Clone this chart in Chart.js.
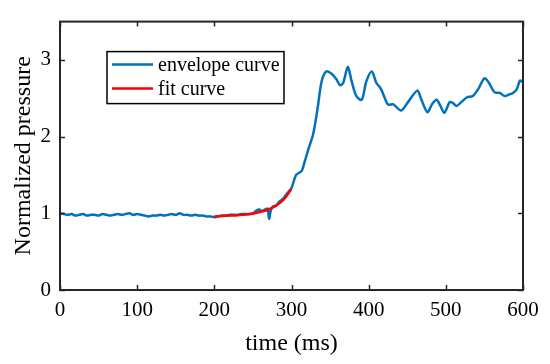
<!DOCTYPE html>
<html>
<head>
<meta charset="utf-8">
<script src="https://cdn.jsdelivr.net/npm/chart.js@4"></script>
<style>
  html, body { margin: 0; padding: 0; background: #fff; }
  #wrap { width: 550px; height: 364px; }
</style>
</head>
<body>
<div id="wrap"><canvas id="pressureChart"></canvas></div>
<script>
// Envelope curve (time in ms, normalized pressure)
const envTime = [0, 5, 10, 15, 20, 25, 30, 35, 40, 45, 50, 55, 60, 65, 70, 75, 80, 85, 90, 95,
  100, 105, 110, 115, 120, 125, 130, 135, 140, 145, 150, 155, 160, 165, 170, 175, 180, 185, 190, 195,
  200, 205, 210, 215, 220, 225, 230, 235, 240, 245, 250, 255, 258, 262, 266, 269, 271, 273, 276, 280,
  284, 288, 292, 296, 300, 306, 313, 317, 322, 328, 334, 339, 345, 352, 358, 363, 367, 373, 378, 384,
  391, 397, 404, 410, 414, 417, 421, 425, 432, 442, 451, 463, 468, 476, 482, 488, 493, 498, 505, 509,
  514, 520, 527, 535, 542, 550, 556, 563, 570, 576, 582, 587, 592, 596, 600];
const envValue = [1.00, 0.99, 0.98, 0.99, 0.97, 0.98, 0.99, 0.97, 0.98, 0.98, 0.97, 0.99, 0.98, 0.97, 0.98, 0.99, 0.98, 0.99, 1.00, 0.98,
  0.99, 0.98, 0.97, 0.96, 0.97, 0.97, 0.98, 0.97, 0.98, 0.99, 0.98, 1.00, 0.98, 0.98, 0.97, 0.98, 0.97, 0.97, 0.96, 0.96,
  0.95, 0.96, 0.97, 0.97, 0.98, 0.98, 0.98, 0.99, 0.99, 0.99, 1.00, 1.04, 1.05, 1.03, 1.05, 1.06, 0.93, 1.03, 1.09, 1.10,
  1.15, 1.18, 1.23, 1.28, 1.33, 1.50, 1.55, 1.67, 1.84, 2.03, 2.38, 2.72, 2.85, 2.82, 2.75, 2.67, 2.70, 2.91, 2.72, 2.53,
  2.48, 2.72, 2.85, 2.70, 2.65, 2.60, 2.50, 2.42, 2.42, 2.34, 2.45, 2.60, 2.49, 2.32, 2.42, 2.48, 2.40, 2.31, 2.45, 2.44,
  2.40, 2.45, 2.51, 2.53, 2.62, 2.76, 2.70, 2.58, 2.57, 2.53, 2.55, 2.57, 2.62, 2.73, 2.71];

// Fit curve
const fitTime = [200, 210, 220, 230, 240, 250, 260, 270, 280, 290, 300];
const fitValue = [0.96, 0.965, 0.97, 0.975, 0.985, 0.995, 1.02, 1.05, 1.10, 1.18, 1.32];

// Axis ticks
const xTicks = [0, 100, 200, 300, 400, 500, 600];
const yTicks = [0, 1, 2, 3];

const serif = '"Liberation Serif", "Times New Roman", serif';
const axisColor = '#262626';

// Box + inward tick marks on all four sides (MATLAB style), plus the legend
const boxPlugin = {
    id: 'boxPlugin',
    afterDatasetsDraw(chart) {
        const ctx = chart.ctx;
        const area = chart.chartArea;
        const xs = chart.scales.x;
        const ys = chart.scales.y;
        const tick = 5;
        ctx.save();
        ctx.strokeStyle = axisColor;
        ctx.lineWidth = 1.5;
        ctx.beginPath();
        xTicks.forEach(v => {
            const px = Math.round(xs.getPixelForValue(v)) + 0.5;
            ctx.moveTo(px, area.bottom);
            ctx.lineTo(px, area.bottom - tick);
            ctx.moveTo(px, area.top);
            ctx.lineTo(px, area.top + tick);
        });
        yTicks.forEach(v => {
            const py = Math.round(ys.getPixelForValue(v)) + 0.5;
            ctx.moveTo(area.left, py);
            ctx.lineTo(area.left + tick, py);
            ctx.moveTo(area.right, py);
            ctx.lineTo(area.right - tick, py);
        });
        ctx.stroke();
        ctx.lineWidth = 2;
        ctx.strokeRect(area.left, area.top, area.right - area.left, area.bottom - area.top);

        // legend
        const lx = area.left + 47, ly = area.top + 30, lw = 177, lh = 52;
        ctx.fillStyle = '#fff';
        ctx.fillRect(lx, ly, lw, lh);
        ctx.lineWidth = 1.5;
        ctx.strokeStyle = '#000';
        ctx.strokeRect(lx, ly, lw, lh);
        ctx.font = '20px ' + serif;
        ctx.textBaseline = 'middle';
        chart.data.datasets.forEach((ds, i) => {
            const yy = ly + 13 + i * 24;
            ctx.strokeStyle = ds.borderColor;
            ctx.lineWidth = 2.5;
            ctx.beginPath();
            ctx.moveTo(lx + 5, yy);
            ctx.lineTo(lx + 46, yy);
            ctx.stroke();
            ctx.fillStyle = '#000';
            ctx.fillText(ds.label, lx + 51, yy + 1);
        });
        ctx.restore();
    }
};

const chart = new Chart(document.getElementById('pressureChart'), {
    type: 'line',
    data: {
        datasets: [
            {
                label: 'envelope curve',
                data: envTime.map((t, i) => ({ x: t, y: envValue[i] })),
                borderColor: '#0072BD',
                borderWidth: 2.5,
                pointRadius: 0,
                tension: 0.3,
                fill: false,
                order: 1,
            },
            {
                label: 'fit curve',
                data: fitTime.map((t, i) => ({ x: t, y: fitValue[i] })),
                borderColor: '#FF0000',
                borderWidth: 2.5,
                pointRadius: 0,
                tension: 0.4,
                fill: false,
                order: 0, // red drawn on top of the blue
            },
        ],
    },
    options: {
        responsive: true,
        maintainAspectRatio: false,
        animation: false,
        layout: { padding: { left: 0, right: 27, top: 11, bottom: 0 } },
        plugins: {
            legend: { display: false },
            tooltip: { enabled: false },
        },
        scales: {
            x: {
                type: 'linear',
                min: 0,
                max: 600,
                afterBuildTicks: s => { s.ticks = xTicks.map(v => ({ value: v })); },
                afterFit: s => { s.height = 74; },
                grid: { display: false, drawTicks: false },
                border: { display: false },
                ticks: {
                    color: '#000',
                    padding: 8,
                    maxRotation: 0,
                    font: { family: serif, size: 21 },
                },
                title: {
                    display: true,
                    text: 'time (ms)',
                    color: '#000',
                    padding: { top: 0, bottom: 6 },
                    font: { family: serif, size: 24 },
                },
            },
            y: {
                type: 'linear',
                min: 0,
                max: 3.5,
                afterBuildTicks: s => { s.ticks = yTicks.map(v => ({ value: v })); },
                afterFit: s => { s.width = 60; },
                grid: { display: false, drawTicks: false },
                border: { display: false },
                ticks: {
                    color: '#000',
                    padding: 9,
                    font: { family: serif, size: 21 },
                },
                title: {
                    display: true,
                    text: 'Normalized pressure',
                    color: '#000',
                    padding: { top: 9, bottom: 0 },
                    font: { family: serif, size: 24 },
                },
            },
        },
    },
    plugins: [boxPlugin],
});
</script>
</body>
</html>
